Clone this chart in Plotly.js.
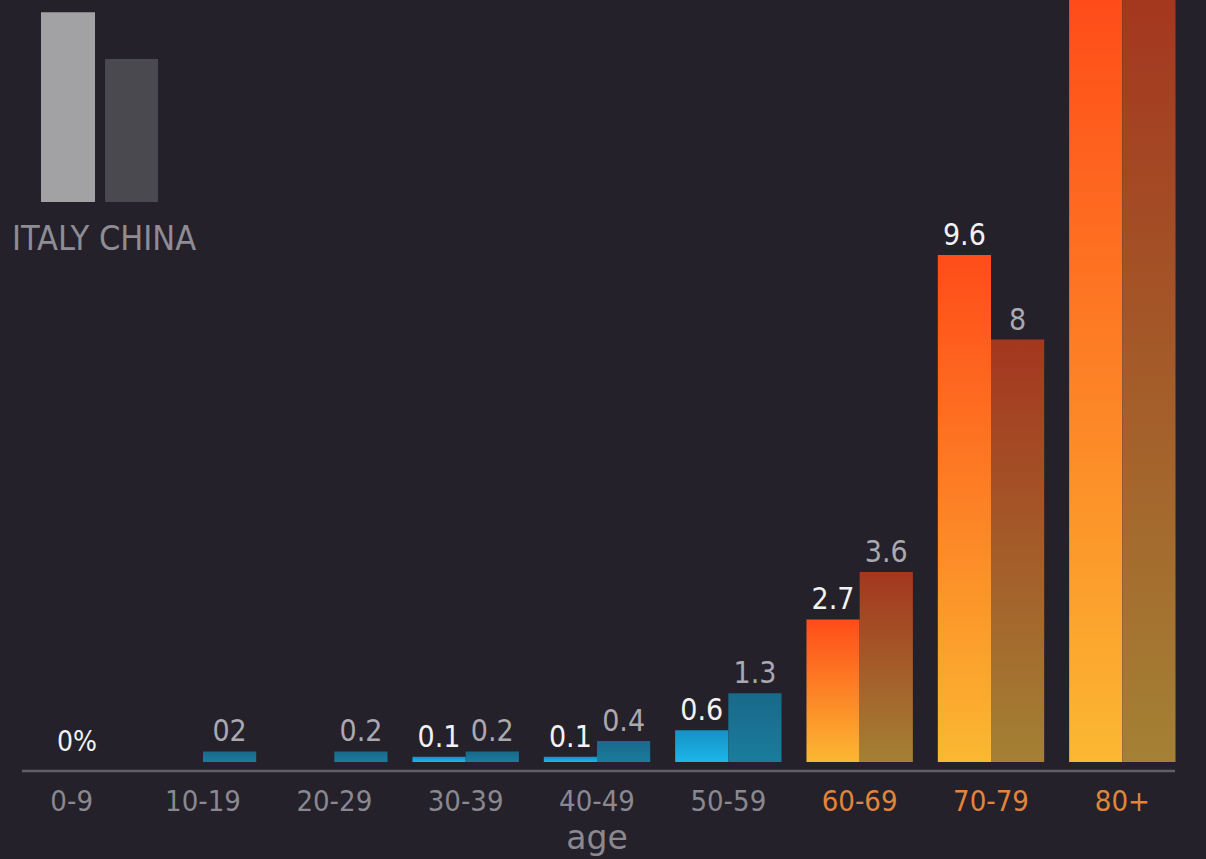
<!DOCTYPE html>
<html><head><meta charset="utf-8">
<script src="https://cdn.plot.ly/plotly-3.0.1.min.js"></script>
<style>html,body{margin:0;padding:0;background:#24212a;}#chart{width:1206px;height:859px;}</style>
</head><body><div id="chart"></div>
<script>
// ---- data ----
const ageGroups = ['0-9','10-19','20-29','30-39','40-49','50-59','60-69','70-79','80+'];
const italyRate = [0, 0, 0, 0.1, 0.1, 0.6, 2.7, 9.6, 20.2];
const chinaRate = [0, 0.2, 0.2, 0.2, 0.4, 1.3, 3.6, 8.0, 14.8];
const italyLabels = ['', '', '', '0.1', '0.1', '0.6', '2.7', '9.6', ''];
const chinaLabels = ['', '02', '0.2', '0.2', '0.4', '1.3', '3.6', '8', ''];
const zeroLabel = '0%';
const seriesNames = ['ITALY', 'CHINA'];
const elderlyFrom = '60-69';

// ---- styles ----
const FONT = 'DejaVu Sans Condensed, Liberation Sans Narrow, sans-serif';
const BG = '#24212a';
const oldIdx = ageGroups.indexOf(elderlyFrom);
const isOld = ageGroups.map((g, i) => i >= oldIdx);
const grad = {
  italy: { young: ['#1592c6', '#1bb6e8'], old: ['#ff4c19', '#fbb832'] },
  china: { young: ['#19698a', '#1a7c9c'], old: ['#a4371f', '#a48134'] }
};
const tickText = ageGroups.map((g, i) => isOld[i]
  ? '<span style="color:#e2853a">' + g + '</span>' : g);

const italy = {
  type: 'bar', name: seriesNames[0], x: ageGroups, y: italyRate,
  text: italyLabels, textposition: 'outside', cliponaxis: false,
  textfont: { family: FONT, size: 30, color: '#f2f2f4' },
  marker: { color: isOld.map(o => o ? grad.italy.old[0] : grad.italy.young[1]) },
  hoverinfo: 'skip'
};
const china = {
  type: 'bar', name: seriesNames[1], x: ageGroups, y: chinaRate,
  text: chinaLabels, textposition: 'outside', cliponaxis: false,
  textfont: { family: FONT, size: 30, color: '#aaa8b0' },
  marker: { color: isOld.map(o => o ? grad.china.old[0] : grad.china.young[1]) },
  hoverinfo: 'skip'
};

const layout = {
  width: 1206, height: 859,
  paper_bgcolor: BG, plot_bgcolor: BG,
  margin: { l: 6, r: 18, t: 0, b: 88 },
  barmode: 'group', bargap: 0.19, bargroupgap: 0,
  showlegend: false,
  font: { family: FONT, color: '#8a8890' },
  xaxis: {
    type: 'category', tickvals: ageGroups, ticktext: tickText,
    showgrid: false, zeroline: false, showline: false, ticks: '',
    tickfont: { family: FONT, size: 29, color: '#8a8890' },
    ticklabelstandoff: 10,
    title: { text: 'age', font: { family: 'DejaVu Sans, sans-serif', size: 33, color: '#8a8890' }, standoff: 2 },
    fixedrange: true
  },
  yaxis: {
    range: [-0.17, 14.43], showgrid: false, zeroline: false, showline: false,
    showticklabels: false, ticks: '', fixedrange: true
  },
  shapes: [
    { type: 'line', xref: 'paper', yref: 'paper', x0: 0.0135, x1: 0.989, y0: 0, y1: 0,
      line: { color: '#625f68', width: 2.5 } },
    { type: 'rect', xref: 'paper', yref: 'paper', x0: 0.0296, x1: 0.0753, y0: 0.738, y1: 0.984,
      fillcolor: '#a2a2a4', line: { width: 0 } },
    { type: 'rect', xref: 'paper', yref: 'paper', x0: 0.0838, x1: 0.1286, y0: 0.738, y1: 0.9235,
      fillcolor: '#4a4950', line: { width: 0 } }
  ],
  annotations: [
    { x: ageGroups[0], y: 0, xref: 'x', yref: 'y', text: zeroLabel, showarrow: false,
      xshift: 5, yanchor: 'bottom', yshift: 2, font: { family: FONT, size: 28, color: '#f2f2f4' } },
    { x: 0.0829, y: 0.691, xref: 'paper', yref: 'paper', text: seriesNames.join(' '),
      showarrow: false, xanchor: 'center', yanchor: 'middle',
      font: { family: FONT, size: 34, color: '#8e8c94' } }
  ]
};

function applyGradients(gd) {
  const ns = 'http://www.w3.org/2000/svg';
  const svg = gd.querySelector('svg.main-svg');
  let defs = svg.querySelector('defs');
  if (!defs) { defs = document.createElementNS(ns, 'defs'); svg.insertBefore(defs, svg.firstChild); }
  const keys = ['italy', 'china'];
  gd.querySelectorAll('.barlayer .trace').forEach((tr, ti) => {
    tr.querySelectorAll('.point').forEach((pt, pi) => {
      const path = pt.querySelector('path');
      if (!path) return;
      const bb = path.getBBox();
      if (!(bb.height > 0)) return;
      const stops = grad[keys[ti]][isOld[pi] ? 'old' : 'young'];
      const id = 'g_' + ti + '_' + pi;
      const lg = document.createElementNS(ns, 'linearGradient');
      lg.setAttribute('id', id);
      lg.setAttribute('gradientUnits', 'userSpaceOnUse');
      lg.setAttribute('x1', 0); lg.setAttribute('x2', 0);
      lg.setAttribute('y1', Math.max(bb.y, 0)); lg.setAttribute('y2', bb.y + bb.height);
      [[0, stops[0]], [1, stops[1]]].forEach(([o, c]) => {
        const s = document.createElementNS(ns, 'stop');
        s.setAttribute('offset', o); s.setAttribute('stop-color', c);
        lg.appendChild(s);
      });
      defs.appendChild(lg);
      path.style.fill = 'url(#' + id + ')';
    });
  });
}

Plotly.newPlot('chart', [italy, china], layout, { displayModeBar: false, staticPlot: true })
  .then(applyGradients);
</script>
</body></html>
